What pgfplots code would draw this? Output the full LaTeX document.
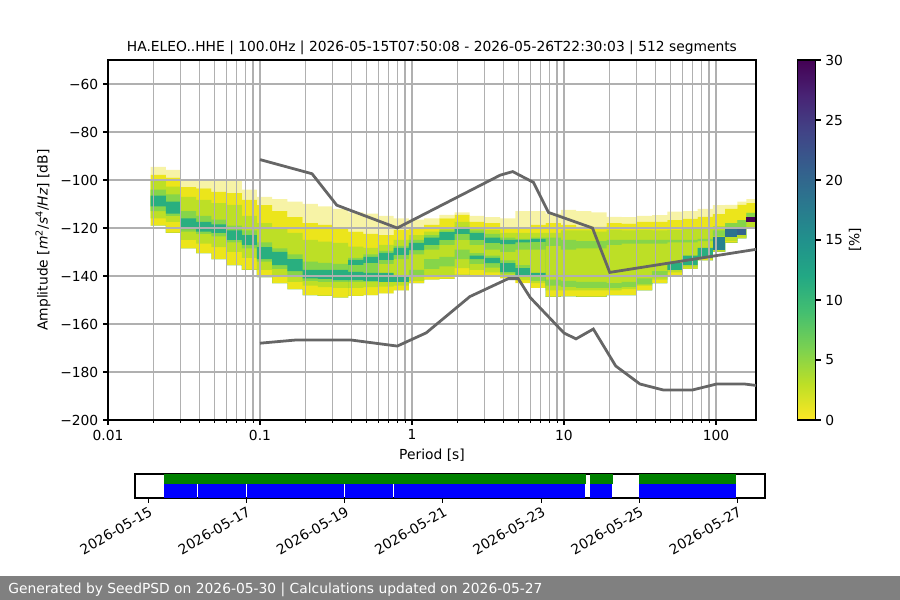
\documentclass[border=0pt]{standalone}
\usepackage{fontspec}
\setmainfont{DejaVu Sans}
\usepackage{pgfplots}
\usepackage{pgfplotstable}
\pgfplotsset{compat=1.18}
\usepgfplotslibrary{fillbetween}

\definecolor{cyel}{HTML}{ECE51B}
\definecolor{cpale}{HTML}{F7F3A6}
\definecolor{clgr}{HTML}{BDDF26}
\definecolor{cgrn}{HTML}{86D549}
\definecolor{cteal}{HTML}{29AF7F}
\definecolor{cgrid}{HTML}{B0B0B0}
\definecolor{cline}{HTML}{666666}
\definecolor{cfoot}{HTML}{808080}
\definecolor{cgreen}{HTML}{008000}
\definecolor{cblue}{HTML}{0000FF}
\definecolor{cca}{HTML}{26828E}
\definecolor{ccb}{HTML}{2C728E}
\definecolor{ccc}{HTML}{33638D}
\definecolor{ccd}{HTML}{440154}

% PPSD histogram bands (period, dB boundaries)
\pgfplotstableread{
T S A B C D E F U1 U2 V1 V2 W1 W2
0.019055 -94.5 -97.9 -100.4 -104 -113 -116 -119 -106.5 -111 -119 -119 -119 -119
0.023988 -95.8 -99 -102.8 -106 -115 -117.5 -122 -109 -114 -122 -122 -122 -122
0.030200 -100.5 -103 -107 -113 -121.5 -125 -128.5 -116 -120.5 -128.5 -128.5 -128.5 -128.5
0.038019 -100.5 -103.5 -108.3 -115 -122.5 -126.5 -130.5 -117.5 -121.5 -130.5 -130.5 -130.5 -130.5
0.047863 -100 -105 -109.6 -116.5 -123.5 -128 -133 -118.5 -122 -133 -133 -133 -133
0.060256 -100 -105.5 -110.4 -119 -126 -130 -135.5 -121 -125 -135.5 -135.5 -135.5 -135.5
0.075858 -104 -108.3 -115 -121 -128.5 -132.5 -137.5 -123 -127 -137.5 -137.5 -137.5 -137.5
0.095499 -107 -110.5 -118 -126 -134 -137.5 -140.5 -128 -133 -140.5 -140.5 -140.5 -140.5
0.12023 -108 -113 -120 -128.5 -137 -140 -143 -130 -135.5 -143 -143 -143 -143
0.15136 -109 -115.5 -122 -131 -139.5 -142.5 -145.5 -133 -138 -145.5 -145.5 -145.5 -145.5
0.19055 -110 -118 -125 -134 -142 -144 -148 -137.5 -141 -148 -148 -148 -148
0.23988 -111 -118.75 -125.7 -134.5 -142.5 -144.6 -148.3 -137.5 -141.25 -148.3 -148.3 -148.3 -148.3
0.30200 -112 -120 -126.25 -135 -142.5 -145 -149 -137.5 -141.7 -149 -149 -149 -149
0.38019 -113.5 -121.5 -127.8 -132.5 -142.5 -145 -148.3 -133.3 -135.4 -138.3 -141.7 -148.3 -148.3
0.47863 -114 -122.5 -128.3 -131 -142.5 -144.6 -148 -132 -134.5 -138.75 -142 -148 -148
0.60256 -115 -123 -127 -129.5 -135 -144.4 -147.2 -130.4 -133.3 -138.75 -142.5 -147.2 -147.2
0.75858 -116 -120.8 -125 -127.5 -133 -144 -146 -128.3 -131.25 -139.6 -142.5 -146 -146
0.95499 -116.5 -120 -123 -125 -131 -142 -143 -126.25 -129.2 -143 -143 -137.5 -140
1.2023 -116 -118.75 -121.5 -123 -129 -140 -141.5 -124 -127 -141.5 -141.5 -133 -137
1.5136 -114.5 -116 -120 -121 -127 -139.5 -141.25 -121.7 -125 -141.25 -141.25 -132 -136
1.9055 -113.5 -114.5 -117.4 -119.5 -125 -136.7 -139.5 -120 -122.5 -139.5 -139.5 -129 -133
2.3988 -115 -117.5 -119.6 -121 -127 -137.5 -140 -122 -125 -131.5 -133 -130.5 -135
3.0200 -115.5 -118 -120.8 -122.5 -129 -138.5 -140.4 -124 -126.25 -132.5 -134.6 -131.5 -136.5
3.8019 -116 -119.6 -122 -124 -130 -140 -141 -125 -126.7 -134.6 -138.3 -133.5 -139
4.7863 -113 -120 -122 -124.5 -129 -141.7 -143 -125 -126 -136.7 -139.6 -135.5 -140.5
6.0256 -113 -118.75 -122 -124 -129 -143 -145 -124.5 -125.8 -138.75 -140.4 -140.4 -142
7.5858 -114 -118 -122 -124 -127.5 -146 -148.75 -148.75 -148.75 -148.75 -148.75 -141.5 -144
9.5499 -112.5 -118.75 -121 -125 -129 -146 -148.5 -148.5 -148.5 -148.5 -148.5 -142 -144.5
12.023 -113 -119.5 -121 -125.5 -128.5 -146 -148.75 -148.75 -148.75 -148.75 -148.75 -142.5 -145
15.136 -113.5 -119.5 -121.5 -125.5 -128.5 -146 -148.75 -148.75 -148.75 -148.75 -148.75 -142.5 -145
19.055 -115.4 -118 -120.8 -125 -127 -146 -148 -148 -148 -148 -148 -143 -145
23.988 -115.5 -118.2 -121 -125 -126.5 -145.5 -148 -148 -148 -148 -148 -142.5 -144.5
30.200 -115 -117.5 -120.8 -125 -126.5 -144 -146 -146 -146 -146 -146 -141 -143.5
38.019 -114.6 -117.5 -121 -125 -126.5 -141.5 -143 -143 -143 -143 -143 -138 -140.5
47.863 -113.2 -116.7 -120.8 -125 -126 -138.5 -140 -140 -140 -134.5 -137.5 -140 -140
60.256 -113 -116.25 -120.4 -125 -126 -136.5 -137 -137 -137 -131.5 -135.5 -137 -137
75.858 -112 -115.4 -119.6 -124.5 -125.5 -133 -133.5 -133.5 -133.5 -128.3 -132.5 -133.5 -133.5
95.499 -110.5 -114.2 -119.2 -121 -123.5 -129.5 -130 -130 -130 -130 -130 -130 -130
114.82 -110.4 -112 -118 -118 -119.6 -125.5 -126.25 -126.25 -126.25 -126.25 -126.25 -126.25 -126.25
138.04 -109 -110.4 -116.7 -116.7 -119.6 -124 -124.3 -124.3 -124.3 -124.3 -124.3 -124.3 -124.3
158.49 -108 -109.6 -113.75 -113.75 -115.4 -119.5 -120 -120 -120 -120 -120 -120 -120
183.4 -108 -109.6 -113.75 -113.75 -115.4 -119.5 -120 -120 -120 -120 -120 -120 -120
}\hist

\begin{document}
\begin{tikzpicture}
\fill[cfoot] (0,0) rectangle (648bp,17.28bp);
\node[anchor=west, text=white, inner sep=0pt] at (5.76bp,7.4bp) {Generated by SeedPSD on 2026-05-30 | Calculations updated on 2026-05-27};

\begin{axis}[
  at={(77.76bp,129.6bp)}, anchor=south west,
  scale only axis, width=466.56bp, height=259.2bp,
  xmode=log, xmin=0.01, xmax=183.4, ymin=-200, ymax=-50,
  set layers=axis on top, axis on top,
  clip mode=individual,
  xtick={0.01,0.1,1,10,100}, xticklabels={0.01,0.1,1,10,100},
  minor xtick={0.02,0.03,0.04,0.05,0.06,0.07,0.08,0.09,0.2,0.3,0.4,0.5,0.6,0.7,0.8,0.9,2,3,4,5,6,7,8,9,20,30,40,50,60,70,80,90},
  ytick={-200,-180,-160,-140,-120,-100,-80,-60},
  yticklabels={−200,−180,−160,−140,−120,−100,−80,−60},
  tick pos=left, tick align=outside,
  major tick length=3.5bp, minor tick length=2bp,
  tick style={black, line width=0.8bp},
  minor tick style={black, line width=0.6bp},
  xmajorgrids, xminorgrids, ymajorgrids,
  major grid style={cgrid, line width=0.8bp},
  minor grid style={cgrid, line width=0.8bp},
  axis line style={line width=0.8bp},
  /pgf/number format/assume math mode=true,
  every axis title/.style={at={(axis description cs:0.5,1)}, anchor=center, yshift=9bp},
  title={HA.ELEO..HHE | 100.0Hz | 2026-05-15T07:50:08 - 2026-05-26T22:30:03 | 512 segments},
  xlabel={Period [s]},
  every axis x label/.style={at={(axis description cs:0.5,0)}, anchor=center, yshift=-25.2bp},
  ylabel={Amplitude [\textit{m}\textsuperscript{2}/\textit{s}\textsuperscript{4}/\textit{Hz}] [dB]},
  every axis y label/.style={at={(axis description cs:0,0.5)}, xshift=-46.8bp, rotate=90, anchor=center},
  colormap={virr}{rgb255=(253,231,37) rgb255=(189,223,38) rgb255=(122,209,81) rgb255=(68,191,112) rgb255=(34,168,132) rgb255=(33,145,140) rgb255=(42,120,142) rgb255=(53,95,141) rgb255=(65,68,135) rgb255=(72,36,117) rgb255=(68,1,84)},
  point meta min=0, point meta max=30,
  colorbar,
  colorbar shift/.style={},
  colorbar style={
    at={(parent axis.north east)}, anchor=north west, xshift=29.7bp,
    scale only axis, width=13.25bp, height=259.2bp,
    ytick={0,5,10,15,20,25,30}, yticklabels={0,5,10,15,20,25,30},
    ytick pos=right, yticklabel pos=right,
    tick align=outside, major tick length=3.5bp,
    tick style={black, line width=0.8bp},
    axis line style={line width=0.8bp},
    ylabel={[\%]},
    every axis y label/.style={at={(axis description cs:1,0.5)}, xshift=28.3bp, rotate=90, anchor=center},
  },
]
\addplot[name path=pS, const plot, draw=none, forget plot] table[x=T,y=S]{\hist};
\addplot[name path=pA, const plot, draw=none, forget plot] table[x=T,y=A]{\hist};
\addplot[name path=pB, const plot, draw=none, forget plot] table[x=T,y=B]{\hist};
\addplot[name path=pC, const plot, draw=none, forget plot] table[x=T,y=C]{\hist};
\addplot[name path=pD, const plot, draw=none, forget plot] table[x=T,y=D]{\hist};
\addplot[name path=pE, const plot, draw=none, forget plot] table[x=T,y=E]{\hist};
\addplot[name path=pF, const plot, draw=none, forget plot] table[x=T,y=F]{\hist};
\addplot[name path=pU1, const plot, draw=none, forget plot] table[x=T,y=U1]{\hist};
\addplot[name path=pU2, const plot, draw=none, forget plot] table[x=T,y=U2]{\hist};
\addplot[name path=pV1, const plot, draw=none, forget plot] table[x=T,y=V1]{\hist};
\addplot[name path=pV2, const plot, draw=none, forget plot] table[x=T,y=V2]{\hist};
\addplot[name path=pW1, const plot, draw=none, forget plot] table[x=T,y=W1]{\hist};
\addplot[name path=pW2, const plot, draw=none, forget plot] table[x=T,y=W2]{\hist};

\addplot[fill=cpale, draw=none] fill between[of=pS and pA];
\addplot[fill=cyel, draw=none] fill between[of=pA and pF];
\addplot[fill=clgr, draw=none] fill between[of=pB and pE];
\addplot[fill=cgrn, draw=none] fill between[of=pC and pD];
\addplot[fill=cgrn, draw=none] fill between[of=pW1 and pW2];
\addplot[fill=cteal, draw=none] fill between[of=pU1 and pU2];
\addplot[fill=cteal, draw=none] fill between[of=pV1 and pV2];

\addplot[fill=cca, draw=none] coordinates {(95.499,-123.75) (114.82,-123.75) (114.82,-129.2) (95.499,-129.2)} --cycle;
\addplot[fill=ccb, draw=none] coordinates {(114.82,-119.6) (138.04,-119.6) (138.04,-123.75) (114.82,-123.75)} --cycle;
\addplot[fill=ccc, draw=none] coordinates {(138.04,-119.6) (158.49,-119.6) (158.49,-123) (138.04,-123)} --cycle;
\addplot[fill=ccd, draw=none] coordinates {(158.49,-115.4) (183.4,-115.4) (183.4,-117.5) (158.49,-117.5)} --cycle;

% NHNM
\addplot[cline, line width=2bp, on layer=axis foreground] coordinates {
(0.1,-91.5) (0.22,-97.4) (0.32,-110.5) (0.8,-120.0) (3.8,-98.0) (4.6,-96.5) (6.3,-101.0) (7.9,-113.5) (15.4,-120.0) (20,-138.5) (183.4,-128.9)};
% NLNM
\addplot[cline, line width=2bp, on layer=axis foreground] coordinates {
(0.1,-168.0) (0.17,-166.7) (0.4,-166.7) (0.8,-169.2) (1.24,-163.7) (2.4,-148.6) (4.3,-141.1) (5.0,-141.1) (6.0,-149.0) (10,-163.75) (12,-166.2) (15.6,-162.1) (21.9,-177.5) (31.6,-185.0) (45,-187.5) (70,-187.5) (101,-185.0) (154,-185.0) (183.4,-185.6)};
\end{axis}

\begin{axis}[
  at={(97.2bp,73.44bp)}, anchor=south west,
  scale only axis, width=453.6bp, height=17.28bp,
  xmin=-0.271, xmax=12.56, ymin=0, ymax=1,
  ytick=\empty,
  xtick={0,2,4,6,8,10,12},
  xticklabels={2026-05-15,2026-05-17,2026-05-19,2026-05-21,2026-05-23,2026-05-25,2026-05-27},
  xtick pos=left, tick align=outside, major tick length=3.5bp,
  tick style={black, line width=0.8bp},
  axis line style={line width=0.8bp},
  xticklabel style={yshift=-2bp, rotate=30, anchor=north east, inner sep=0pt},
]
\addplot[fill=cgreen, draw=none] coordinates {(0.327,0.58) (8.91,0.58) (8.91,1) (0.327,1)} --cycle;
\addplot[fill=cgreen, draw=none] coordinates {(9.0,0.58) (9.46,0.58) (9.46,1) (9.0,1)} --cycle;
\addplot[fill=cgreen, draw=none] coordinates {(10.0,0.58) (11.97,0.58) (11.97,1) (10.0,1)} --cycle;
\addplot[fill=cblue, draw=none] coordinates {(0.327,0) (0.992,0) (0.992,0.58) (0.327,0.58)} --cycle;
\addplot[fill=cblue, draw=none] coordinates {(1.008,0) (1.992,0) (1.992,0.58) (1.008,0.58)} --cycle;
\addplot[fill=cblue, draw=none] coordinates {(2.008,0) (3.992,0) (3.992,0.58) (2.008,0.58)} --cycle;
\addplot[fill=cblue, draw=none] coordinates {(4.008,0) (4.992,0) (4.992,0.58) (4.008,0.58)} --cycle;
\addplot[fill=cblue, draw=none] coordinates {(5.008,0) (5.992,0) (5.992,0.58) (5.008,0.58)} --cycle;
\addplot[fill=cblue, draw=none] coordinates {(6.008,0) (8.89,0) (8.89,0.58) (6.008,0.58)} --cycle;
\addplot[fill=cblue, draw=none] coordinates {(9.0,0) (9.44,0) (9.44,0.58) (9.0,0.58)} --cycle;
\addplot[fill=cblue, draw=none] coordinates {(10.0,0) (11.97,0) (11.97,0.58) (10.0,0.58)} --cycle;
\end{axis}
\pgfresetboundingbox
\useasboundingbox (0,0) rectangle (648bp,432bp);
\end{tikzpicture}
\end{document}
